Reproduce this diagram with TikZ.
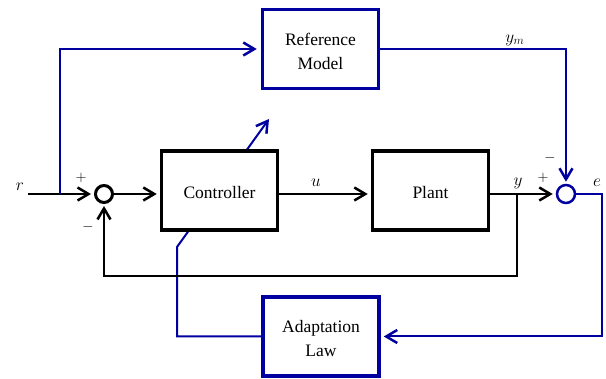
\documentclass[tikz,border=0pt]{standalone}
\usepackage{fontspec}
\setmainfont{Liberation Serif}
\usetikzlibrary{arrows.meta,backgrounds}
\definecolor{navy}{RGB}{0,0,160}
\newcommand{\boxtext}[1]{\raisebox{-3.5pt}[\height][\depth]{\begin{tabular}{@{}c@{}}#1\end{tabular}}}
\begin{document}
\begin{tikzpicture}[x=1pt,y=-1pt,
  blk/.style={draw, line width=3.5pt, minimum width=116pt, minimum height=79pt,
    fill=white, inner sep=0pt, align=center, font=\fontsize{17.5}{24}\selectfont},
  bblk/.style={blk, draw=navy},
  sumb/.style={circle, draw, line width=3pt, minimum size=17pt, inner sep=0pt, fill=white},
  sumn/.style={circle, draw=navy, line width=2.5pt, minimum size=18pt, inner sep=0pt, fill=white},
  tip/.style={-{Straight Barb[length=11pt,width=13pt,line width=2.5pt]}},
  ln/.style={line width=2.3pt, black},
  bl/.style={line width=2pt, navy},
  lab/.style={font=\fontsize{17}{20}\selectfont, inner sep=0pt},
  sgn/.style={font=\fontsize{14}{16}\selectfont, inner sep=0pt}]
\useasboundingbox (0,0) rectangle (606,379);
% blocks
\node[bblk] (ref) at (320.5,49) {\boxtext{Reference\\Model}};
\node[blk] (ctrl) at (219.5,190.5) {\boxtext{Controller}};
\node[blk] (plant) at (430.5,190.5) {\boxtext{Plant}};
\node[bblk] (adapt) at (321,336.5) {\boxtext{Adaptation\\Law}};
\node[sumb] (s1) at (104,194) {};
\node[sumn] (s2) at (566,194) {};
% coordinates
\coordinate (rin) at (28,194);
\coordinate (br1) at (60,194);
\coordinate (br2) at (517,194);
\coordinate (fb) at (104,276);
\coordinate (ec) at (602,194);
\coordinate (ad1) at (177,247);
\coordinate (ad2) at (269,119);
% labels
\node[lab] (rl) at (20,187) {$r$};
\node[lab] (ul) at (316,183) {$u$};
\node[lab] (yl) at (518,183) {$y$};
\node[lab] (yml) at (515,40) {$y_m$};
\node[lab] (el) at (597,183) {$e$};
\node[sgn] (p1) at (81,178) {$+$};
\node[sgn] (m1) at (88,227) {$-$};
\node[sgn] (p2) at (543,178) {$+$};
\node[sgn] (m2) at (550,158) {$-$};
% connectors
\draw[ln,tip,shorten >=3pt] (rin) -- (s1.west);
\draw[ln,tip,shorten >=3pt] (s1.east) -- (ctrl.west |- s1);
\draw[ln,tip,shorten >=3pt] (ctrl.east |- s1) -- (plant.west |- s1);
\draw[ln,tip,shorten >=3pt] (plant.east |- s2) -- (s2.west);
\draw[ln,tip,shorten >=2pt] (br2) |- (fb) -- (s1.south);
\draw[bl,tip,shorten >=4pt] (br1) |- (ref.west);
\draw[bl,tip,shorten >=2pt] (ref.east) -| (s2.north);
\draw[bl,tip,shorten >=3pt] (s2.east) -- (ec) |- (adapt.east);
\begin{pgfonlayer}{background}
\draw[bl,tip] (adapt.west) -| (ad1) -- (ad2);
\end{pgfonlayer}
\end{tikzpicture}
\end{document}
